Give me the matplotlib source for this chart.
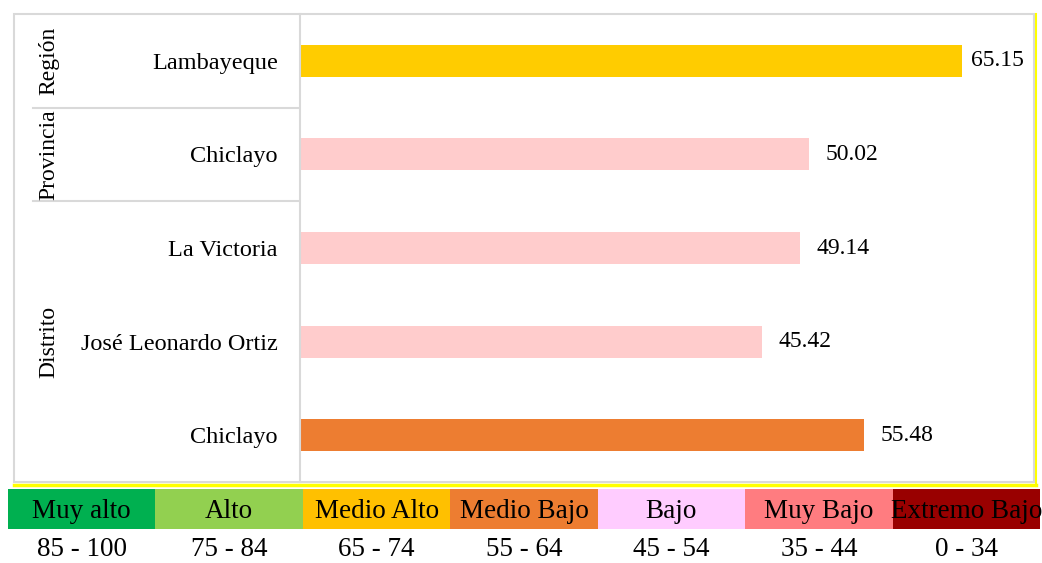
#!/usr/bin/env python3
"""Horizontal bar chart of index values by region / province / district with colour scale legend."""

import matplotlib

matplotlib.use("Agg")
import matplotlib.pyplot as plt
from matplotlib.patches import Rectangle
from matplotlib.lines import Line2D
from matplotlib.transforms import blended_transform_factory

# data
places = ["Lambayeque", "Chiclayo", "La Victoria", "José Leonardo Ortiz", "Chiclayo"]
values = [65.15, 50.02, 49.14, 45.42, 55.48]
bar_colors = ["#ffcc00", "#ffcccc", "#ffcccc", "#ffcccc", "#ed7d31"]
groups = ["Región", "Provincia", "Distrito"]
group_spans = [(0, 0), (1, 1), (2, 4)]

scale_names = ["Muy alto", "Alto", "Medio Alto", "Medio Bajo", "Bajo", "Muy Bajo", "Extremo Bajo"]
scale_ranges = ["85 - 100", "75 - 84", "65 - 74", "55 - 64", "45 - 54", "35 - 44", "0 - 34"]
scale_colors = ["#00b050", "#92d050", "#ffc000", "#ed7d31", "#ffccff", "#ff7c80", "#990000"]

plt.rcParams["font.family"] = ["Liberation Serif", "DejaVu Serif"]

W, H = 1042, 563
fig = plt.figure(figsize=(W / 100, H / 100), dpi=100, facecolor="white")


def fx(px):
    return px / W


def fy(py):
    return 1 - py / H


# outer chart box
fig.patches.append(Rectangle((fx(14), fy(482)), fx(1034) - fx(14), fy(14) - fy(482),
                             transform=fig.transFigure, facecolor="white",
                             edgecolor="#d9d9d9", lw=1.5, zorder=-1))
fig.lines.append(Line2D([fx(14), fx(1036)], [fy(485), fy(485)], transform=fig.transFigure,
                        color="#ffff00", lw=2.5))
fig.lines.append(Line2D([fx(1035.5), fx(1035.5)], [fy(14), fy(486)], transform=fig.transFigure,
                        color="#ffff00", lw=1.5))

ax = fig.add_axes([fx(300), fy(482), fx(1032) - fx(300), fy(14) - fy(482)], zorder=2)
ax.set_facecolor("none")
y = list(range(len(places)))
bars = ax.barh(y, values, height=0.34, color=bar_colors)
ax.set_xlim(0, 72.0)
ax.set_ylim(4.5, -0.5)
ax.set_xticks([])
ax.set_yticks(y)
ax.set_yticklabels(places, fontsize=17.5)
ax.tick_params(axis="y", length=0, pad=16)
for side in ["top", "right", "bottom"]:
    ax.spines[side].set_visible(False)
ax.spines["left"].set_color("#d9d9d9")
ax.spines["left"].set_linewidth(1.5)

vmax = max(values)
for b, v in zip(bars, values):
    pad = 6 if v == vmax else 12
    ax.annotate(f"{v:.2f}", (b.get_width(), b.get_y() + b.get_height() / 2),
                xytext=(pad, 0), textcoords="offset points",
                va="center", ha="left", fontsize=17)

# group labels and separators
tr = blended_transform_factory(fig.transFigure, ax.transData)
for name, (a, b) in zip(groups, group_spans):
    ax.text(fx(49), (a + b) / 2, name, transform=tr, rotation=90,
            ha="center", va="center", fontsize=17, clip_on=False)
for a, b in group_spans[:-1]:
    ax.add_line(Line2D([fx(33), fx(299)], [b + 0.5, b + 0.5], transform=tr,
                       color="#d9d9d9", lw=1.5, clip_on=False))

# colour scale legend
x0, x1 = 8, 1040
cw = (x1 - x0) / len(scale_names)
for i, (name, rng, col) in enumerate(zip(scale_names, scale_ranges, scale_colors)):
    left = x0 + i * cw
    fig.patches.append(Rectangle((fx(left), fy(529)), fx(cw), fy(489) - fy(529),
                                 transform=fig.transFigure, facecolor=col, edgecolor="none"))
    fig.text(fx(left + cw / 2), fy(511), name, ha="center", va="center", fontsize=19.5)
    fig.text(fx(left + cw / 2), fy(550), rng, ha="center", va="center", fontsize=19.5)

fig.savefig("out.png", dpi=100, facecolor=fig.get_facecolor())
